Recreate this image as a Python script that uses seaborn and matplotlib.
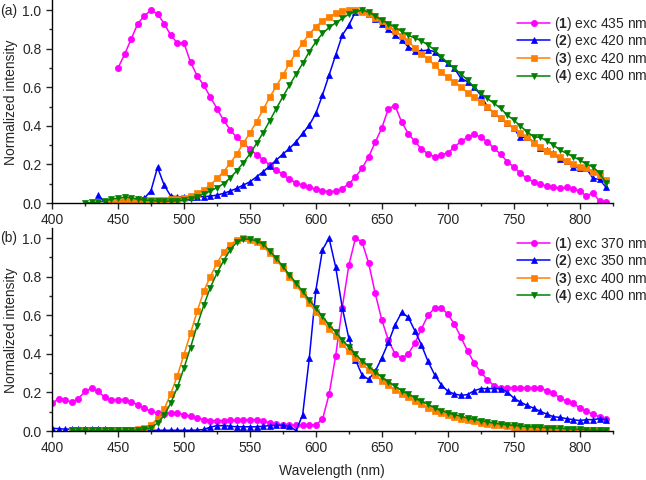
import numpy as np
import pandas as pd
import matplotlib
matplotlib.use('Agg')
import matplotlib.pyplot as plt
import seaborn as sns

# podaci ocitani sa slike (korak 5 nm)
# panel (a)
a1_start = 450
a1 = [0.70, 0.77, 0.85, 0.93, 0.97, 1.00, 0.98, 0.93, 0.87, 0.83,
      0.83, 0.73, 0.66, 0.61, 0.55, 0.49, 0.43, 0.38, 0.34, 0.31,
      0.28, 0.25, 0.225, 0.197, 0.171, 0.149, 0.123, 0.105, 0.093, 0.081,
      0.071, 0.063, 0.059, 0.062, 0.075, 0.10, 0.135, 0.18, 0.24, 0.315,
      0.39, 0.49, 0.505, 0.42, 0.36, 0.32, 0.28, 0.255, 0.24, 0.25,
      0.26, 0.29, 0.32, 0.34, 0.358, 0.34, 0.318, 0.283, 0.254, 0.214,
      0.188, 0.154, 0.128, 0.11, 0.098, 0.088, 0.081, 0.077, 0.081, 0.071,
      0.064, 0.036, 0.053, 0.010, 0.003]

a2_start = 435
a2 = [0.04, 0.005, 0.005,
      0.01, 0.015, 0.015, 0.02, 0.025, 0.064, 0.185, 0.093, 0.036, 0.033,
      0.033, 0.03, 0.033, 0.033, 0.036, 0.041, 0.05, 0.062, 0.076, 0.093,
      0.11, 0.136, 0.162, 0.192, 0.223, 0.254, 0.283, 0.318, 0.361, 0.404,
      0.465, 0.56, 0.663, 0.767, 0.87, 0.922, 0.991, 1.0, 0.982, 0.956,
      0.93, 0.90, 0.87, 0.845, 0.81, 0.79,
      0.789, 0.793, 0.785, 0.75, 0.724, 0.698, 0.646, 0.629, 0.60, 0.56,
      0.499, 0.465, 0.439, 0.413, 0.387, 0.34, 0.34, 0.318, 0.284, 0.275,
      0.258, 0.227, 0.22, 0.189, 0.18, 0.18, 0.128, 0.123, 0.081]

a3_start = 445
a3 = [0.005, 0.008, 0.01, 0.01, 0.012, 0.013, 0.015, 0.017, 0.018, 0.02, 0.022,
      0.028, 0.036, 0.05, 0.07, 0.093, 0.128, 0.162, 0.206, 0.254, 0.309,
      0.364, 0.421, 0.485, 0.548, 0.606, 0.663, 0.724, 0.779, 0.831, 0.876,
      0.914, 0.945, 0.965, 0.983, 0.995, 1.0, 1.0, 0.991, 0.979, 0.957,
      0.945, 0.92, 0.893, 0.865, 0.838, 0.805,
      0.775, 0.745, 0.715, 0.68, 0.651, 0.629, 0.60, 0.572, 0.551, 0.525,
      0.496, 0.468, 0.439, 0.413, 0.387, 0.361, 0.34, 0.313, 0.292, 0.271,
      0.254, 0.24, 0.22, 0.202, 0.188, 0.18, 0.163, 0.145, 0.119]

a4_start = 425
a4 = [0.0, 0.003, 0.005, 0.01, 0.02, 0.025, 0.03, 0.028, 0.02, 0.015,
      0.013, 0.01, 0.01, 0.01, 0.012,
      0.015, 0.02, 0.033, 0.047, 0.062, 0.08, 0.10, 0.13, 0.167, 0.209,
      0.254, 0.309, 0.364, 0.426, 0.49, 0.551, 0.611, 0.668, 0.724, 0.784,
      0.836, 0.879, 0.91, 0.934, 0.957, 0.979, 0.991, 1.0, 0.991, 0.969,
      0.948, 0.93, 0.91, 0.89, 0.87, 0.855,
      0.841, 0.819, 0.793, 0.758, 0.727, 0.698, 0.669, 0.637, 0.60, 0.568,
      0.542, 0.517, 0.491, 0.456, 0.430, 0.399, 0.370, 0.344, 0.340, 0.323,
      0.301, 0.275, 0.258, 0.240, 0.223, 0.202, 0.188, 0.154, 0.105]

# panel (b)
b1_start = 400
b1 = [0.143, 0.168, 0.163, 0.149, 0.168, 0.205, 0.223, 0.205, 0.175, 0.163,
      0.163, 0.163, 0.151, 0.137, 0.119, 0.102, 0.093, 0.090, 0.093, 0.093,
      0.085, 0.076, 0.067, 0.059, 0.054, 0.054, 0.054, 0.055, 0.057, 0.059,
      0.059, 0.059, 0.054, 0.041, 0.036, 0.033, 0.032, 0.029, 0.029, 0.029,
      0.033, 0.06, 0.19, 0.39, 0.64, 0.86, 1.0, 0.98, 0.87, 0.713,
      0.575, 0.47, 0.40, 0.377, 0.40, 0.455, 0.53, 0.60, 0.637, 0.637,
      0.607, 0.554, 0.485, 0.415, 0.352, 0.305, 0.266, 0.235, 0.225, 0.225,
      0.225, 0.225, 0.225, 0.225, 0.222, 0.21, 0.195, 0.172, 0.155, 0.143,
      0.12, 0.103, 0.086, 0.074, 0.063]

b2_start = 400
b2 = [0.015, 0.012, 0.01, 0.01, 0.01, 0.01, 0.008, 0.008, 0.008, 0.007,
      0.006, 0.006, 0.005, 0.005, 0.005, 0.004, 0.004, 0.004, 0.004, 0.004,
      0.004, 0.004, 0.005, 0.008, 0.02, 0.028, 0.028, 0.025, 0.022, 0.022,
      0.022, 0.022, 0.025, 0.028, 0.03, 0.03, 0.025, 0.002, 0.085, 0.378,
      0.73, 0.94, 1.0, 0.85, 0.64, 0.48, 0.37, 0.29, 0.268, 0.31,
      0.38, 0.46, 0.55, 0.615, 0.59, 0.52, 0.447, 0.361, 0.292, 0.24,
      0.206, 0.192, 0.185, 0.189, 0.209, 0.22, 0.22, 0.22, 0.22, 0.202,
      0.171, 0.15, 0.133, 0.119, 0.102, 0.088, 0.074, 0.071, 0.064, 0.059,
      0.054, 0.059, 0.059, 0.064, 0.059]

b3_start = 415
b3 = [0.003, 0.003, 0.003, 0.003, 0.003, 0.003, 0.004,
      0.004, 0.005, 0.007, 0.01, 0.018, 0.033, 0.064, 0.115, 0.192, 0.287,
      0.396, 0.507, 0.62, 0.724, 0.801, 0.870, 0.927, 0.965, 0.991, 1.0,
      0.991, 0.979, 0.957, 0.922, 0.888, 0.845, 0.801, 0.758, 0.71, 0.663,
      0.617, 0.572, 0.53, 0.491, 0.451, 0.413, 0.378, 0.347, 0.318, 0.289,
      0.261, 0.237, 0.214, 0.194, 0.175, 0.158, 0.14, 0.12, 0.106, 0.092,
      0.082, 0.071, 0.064, 0.055, 0.05, 0.043, 0.038, 0.033, 0.029, 0.024,
      0.021, 0.019, 0.016, 0.015, 0.014, 0.012, 0.01, 0.008, 0.007, 0.006,
      0.005, 0.004, 0.003, 0.003, 0.002]

b4_start = 415
b4 = [0.003, 0.003, 0.003, 0.003, 0.003, 0.003, 0.003,
      0.003, 0.003, 0.004, 0.005, 0.008, 0.018, 0.041, 0.081, 0.145, 0.226,
      0.326, 0.433, 0.547, 0.651, 0.744, 0.818, 0.882, 0.939, 0.979, 0.995,
      0.995, 0.986, 0.969, 0.934, 0.896, 0.853, 0.81, 0.767, 0.724, 0.68,
      0.637, 0.594, 0.551, 0.513, 0.473, 0.434, 0.399, 0.364, 0.335, 0.306,
      0.278, 0.254, 0.232, 0.209, 0.192, 0.171, 0.154, 0.138, 0.119, 0.106,
      0.094, 0.085, 0.076, 0.067, 0.061, 0.054, 0.047, 0.041, 0.036, 0.033,
      0.029, 0.026, 0.023, 0.021, 0.02, 0.018, 0.016, 0.014, 0.012, 0.011,
      0.009, 0.007, 0.005, 0.005, 0.005]

labels_a = ['($\\mathbf{1}$) exc 435 nm', '($\\mathbf{2}$) exc 420 nm',
            '($\\mathbf{3}$) exc 420 nm', '($\\mathbf{4}$) exc 400 nm']
labels_b = ['($\\mathbf{1}$) exc 370 nm', '($\\mathbf{2}$) exc 350 nm',
            '($\\mathbf{3}$) exc 400 nm', '($\\mathbf{4}$) exc 400 nm']
colors = ['#FF00FF', '#0000FF', '#FF8000', '#008000']
markers = ['o', '^', 's', 'v']

sns.set_style('ticks')
plt.rcParams['font.family'] = ['Liberation Sans', 'DejaVu Sans']
plt.rcParams['mathtext.fontset'] = 'custom'
plt.rcParams['mathtext.rm'] = 'Liberation Sans'
plt.rcParams['mathtext.bf'] = 'Liberation Sans:bold'
plt.rcParams['font.size'] = 10

fig = plt.figure(figsize=(6.46, 4.8), dpi=100)
ax_a = fig.add_axes([0.0805, 0.577, 0.868, 0.422])
ax_b = fig.add_axes([0.0805, 0.102, 0.868, 0.422])


def draw(ax, series, labels, leg_y):
    for (start, vals), lab, c, m in zip(series, labels, colors, markers):
        wl = np.arange(start, start + 5 * len(vals), 5)
        sns.lineplot(x=wl, y=vals, ax=ax, color=c, marker=m, markersize=4.5,
                     markeredgecolor=c, markeredgewidth=0.5, linewidth=1.1,
                     label=lab)
    ax.set_xlim(400, 825)
    ax.set_ylim(0, 1.05)
    ax.set_xticks(np.arange(400, 801, 50))
    ax.set_xticks(np.arange(425, 826, 50), minor=True)
    ax.set_yticks(np.arange(0, 1.01, 0.2))
    ax.set_yticks(np.arange(0.1, 1.01, 0.2), minor=True)
    ax.yaxis.set_major_formatter(matplotlib.ticker.FormatStrFormatter('%.1f'))
    ax.tick_params(which='major', length=4, width=1, labelsize=10)
    ax.tick_params(which='minor', length=2.5, width=1)
    for s in ['left', 'bottom']:
        ax.spines[s].set_linewidth(1)
        ax.spines[s].set_color('black')
    ax.set_ylabel('Normalized intensity', fontsize=10, labelpad=3)
    ax.set_xlabel('')
    ax.legend(loc='upper left', bbox_to_anchor=(0.829, leg_y), frameon=False,
              fontsize=10, borderpad=0, borderaxespad=0, handlelength=2.4,
              handletextpad=0.25, labelspacing=-0.03)


draw(ax_a, [(a1_start, a1), (a2_start, a2), (a3_start, a3), (a4_start, a4)], labels_a, 0.93)
draw(ax_b, [(b1_start, b1), (b2_start, b2), (b3_start, b3), (b4_start, b4)], labels_b, 0.97)
sns.despine(fig=fig)

ax_b.set_xlabel('Wavelength (nm)', fontsize=10, labelpad=6)
fig.text(0.0, 0.978, '(a)', fontsize=10, ha='left', va='center')
fig.text(0.0, 0.504, '(b)', fontsize=10, ha='left', va='center')

fig.savefig('out.png', dpi=100)
